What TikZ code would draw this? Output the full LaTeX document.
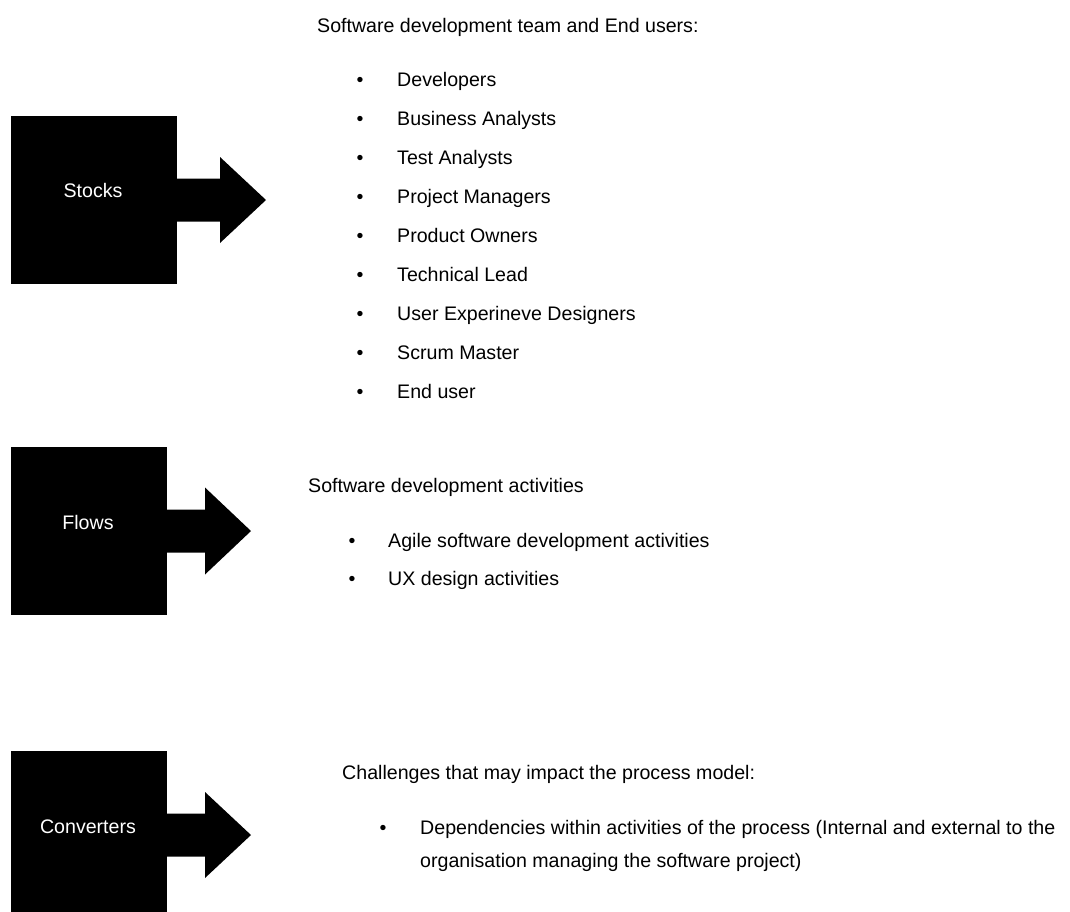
\documentclass[tikz,border=0pt]{standalone}
\usepackage{fontspec}
\setmainfont{Liberation Sans}
\begin{document}
\begin{tikzpicture}[x=1pt,y=-1pt,
  blockbox/.style={fill=black,draw=none,minimum width=#1,minimum height=168pt,inner sep=0pt,outer sep=0pt},
  blocklabel/.style={text=white,inner sep=0pt,anchor=center},
  heading/.style={anchor=base west,inner sep=0pt,text=black},
  itemtext/.style={anchor=base west,inner sep=0pt,text=black},
  dot/.style={anchor=base,inner sep=0pt,text=black},
  every node/.append style={font=\fontsize{19.6}{24}\selectfont}]
% page frame
\useasboundingbox (0,0) rectangle (1070,911);
\clip (0,0) rectangle (1070,911);

% block arrow: box node name, shaft length, half height of the head
\newcommand\blockarrow[3]{%
  \fill[black] ([xshift=-1pt]#1.east) ++(0,-21.5) -- ++(#2+1,0) -- ++(0,21.5-#3)
    -- ++(46,#3) -- ++(-46,#3) -- ++(0,21.5-#3) -- ++(-#2-1,0) -- cycle;}

% ---------- Stocks ----------
\node[blockbox=166pt] (stocks) at (94,200) {};
\blockarrow{stocks}{43}{43}
\node[blocklabel] (stocksl) at (93,190) {Stocks};

\node[heading] (stocksh) at (317,32) {Software development team and End users:};
\foreach \t [count=\i from 0] in {Developers,Business Analysts,Test Analysts,Project Managers,Product Owners,Technical Lead,User Experineve Designers,Scrum Master,End user}{
  \node[dot] (sb\i) at (360,86+39*\i) {•};
  \node[itemtext] (si\i) at (397,86+39*\i) {\t};
}

% ---------- Flows ----------
\node[blockbox=156pt] (flows) at (89,531) {};
\blockarrow{flows}{38}{43.5}
\node[blocklabel] (flowsl) at (88,522) {Flows};

\node[heading] (flowsh) at (308,492) {Software development activities};
\node[dot] (fb0) at (352,547) {•};
\node[itemtext] (fi0) at (388,547) {Agile software development activities};
\node[dot] (fb1) at (352,585) {•};
\node[itemtext] (fi1) at (388,585) {UX design activities};

% ---------- Converters ----------
\node[blockbox=156pt] (conv) at (89,835) {};
\blockarrow{conv}{38}{43}
\node[blocklabel] (convl) at (88,827) {Converters};

\node[heading] (convh) at (342,779) {Challenges that may impact the process model:};
\node[dot] (cb0) at (383,834) {•};
\node[itemtext] (ci0) at (420,834) {Dependencies within activities of the process (Internal and external to the};
\node[itemtext] (ci1) at (420,867) {organisation managing the software project)};
\end{tikzpicture}
\end{document}
